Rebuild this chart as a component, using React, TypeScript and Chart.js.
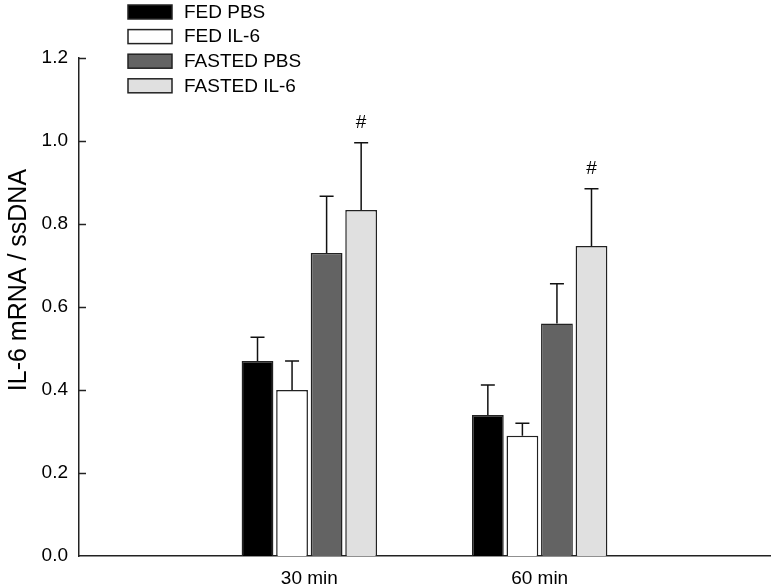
import React, { useEffect, useRef } from 'react';
import { Chart, registerables } from 'chart.js';

Chart.register(...registerables);

const categories = ['30 min', '60 min'];
const seriesLabels = ['FED PBS', 'FED IL-6', 'FASTED PBS', 'FASTED IL-6'];
const fedPbs = [0.47, 0.34];
const fedIl6 = [0.4, 0.29];
const fastedPbs = [0.73, 0.56];
const fastedIl6 = [0.834, 0.747];
const fedPbsErr = [0.057, 0.072];
const fedIl6Err = [0.07, 0.03];
const fastedPbsErr = [0.137, 0.096];
const fastedIl6Err = [0.162, 0.138];
const fastedIl6Marks = ['#', '#'];
const yTitle = 'IL-6 mRNA / ssDNA';
const yMin = 0;
const yMax = 1.2;
const yStep = 0.2;

const FONT = 'Liberation Sans, Arial, Helvetica, sans-serif';
const fills = ['#000000', '#ffffff', '#636363', '#e0e0e0'];

const errorBarPlugin = {
  id: 'errorBars',
  afterDatasetsDraw(chart: any) {
    const ctx = chart.ctx;
    const yScale = chart.scales.y;
    ctx.save();
    ctx.strokeStyle = '#111';
    ctx.lineWidth = 1.5;
    chart.data.datasets.forEach((ds: any, di: number) => {
      const meta = chart.getDatasetMeta(di);
      meta.data.forEach((bar: any, i: number) => {
        const v = ds.data[i].y;
        const e = ds.errors[i];
        const yTop = yScale.getPixelForValue(v + e);
        ctx.beginPath();
        ctx.moveTo(bar.x, bar.y);
        ctx.lineTo(bar.x, yTop);
        ctx.moveTo(bar.x - 7, yTop);
        ctx.lineTo(bar.x + 7, yTop);
        ctx.stroke();
        if (ds.marks && ds.marks[i]) {
          ctx.fillStyle = '#000';
          ctx.font = `19px ${FONT}`;
          ctx.textAlign = 'center';
          ctx.textBaseline = 'middle';
          ctx.fillText(ds.marks[i], bar.x, yTop - 20);
        }
      });
    });
    ctx.restore();
  },
};

const axisExtrasPlugin = {
  id: 'axisExtras',
  afterDraw(chart: any) {
    const ctx = chart.ctx;
    const y = chart.scales.y;
    const left = chart.chartArea.left;
    ctx.save();
    ctx.strokeStyle = '#222';
    ctx.lineWidth = 1.5;
    y.ticks.forEach((t: any) => {
      if (t.value === yMin) return;
      const py = Math.round(y.getPixelForValue(t.value)) + 0.5;
      ctx.beginPath();
      ctx.moveTo(left, py);
      ctx.lineTo(left + 7, py);
      ctx.stroke();
    });
    // rotated y-axis title
    ctx.translate(19, y.getPixelForValue(0.665));
    ctx.rotate(-Math.PI / 2);
    ctx.fillStyle = '#000';
    ctx.font = `25px ${FONT}`;
    ctx.textAlign = 'center';
    ctx.textBaseline = 'middle';
    ctx.fillText(yTitle, 0, 0);
    ctx.restore();
  },
};

const legendPlugin = {
  id: 'boxLegend',
  afterDraw(chart: any) {
    const ctx = chart.ctx;
    ctx.save();
    ctx.font = `19px ${FONT}`;
    ctx.textBaseline = 'middle';
    ctx.textAlign = 'left';
    chart.data.datasets.forEach((ds: any, i: number) => {
      const top = 5 + i * 24.6;
      ctx.fillStyle = ds.backgroundColor;
      ctx.fillRect(128, top, 44, 14);
      ctx.strokeStyle = '#222';
      ctx.lineWidth = 1.5;
      ctx.strokeRect(128, top, 44, 14);
      ctx.fillStyle = '#000';
      ctx.fillText(ds.label, 184, top + 7.5);
    });
    ctx.restore();
  },
};

export default function App() {
  const ref = useRef<HTMLCanvasElement>(null);

  useEffect(() => {
    document.body.style.margin = '0';
    const values = [fedPbs, fedIl6, fastedPbs, fastedIl6];
    const errors = [fedPbsErr, fedIl6Err, fastedPbsErr, fastedIl6Err];
    const datasets = seriesLabels.map((label, si) => ({
      label,
      data: categories.map((_, ci) => ({ x: ci + 1, y: values[si][ci] })),
      errors: errors[si],
      marks: si === 3 ? fastedIl6Marks : null,
      backgroundColor: fills[si],
      borderColor: '#222',
      borderWidth: 1.5,
      borderSkipped: 'bottom',
      categoryPercentage: 0.6,
      barPercentage: 0.92,
    }));
    const chart = new Chart(ref.current as HTMLCanvasElement, {
      type: 'bar',
      data: { datasets } as any,
      options: {
        animation: false,
        responsive: false,
        devicePixelRatio: 1,
        layout: { padding: { top: 58, right: 2, left: 0, bottom: 0 } },
        plugins: { legend: { display: false }, tooltip: { enabled: false } },
        scales: {
          x: {
            type: 'linear',
            offset: false,
            min: 0,
            max: categories.length + 1,
            grid: { display: false },
            border: { display: true, color: '#222', width: 1.5 },
            ticks: {
              stepSize: 1,
              padding: 3,
              color: '#000',
              font: { family: FONT, size: 19 },
              callback: (v: any) => categories[Number(v) - 1] ?? '',
            },
            afterFit: (s: any) => {
              s.height = 32;
            },
          },
          y: {
            min: yMin,
            max: yMax,
            grid: { display: false, drawTicks: false },
            border: { display: true, color: '#222', width: 1.5 },
            ticks: {
              stepSize: yStep,
              padding: 11,
              color: '#000',
              font: { family: FONT, size: 19 },
              callback: (v: any) => Number(v).toFixed(1),
            },
            afterFit: (s: any) => {
              s.width = 79;
            },
          },
        },
      },
      plugins: [errorBarPlugin, axisExtrasPlugin, legendPlugin],
    } as any);
    return () => chart.destroy();
  }, []);

  return (
    <div style={{ width: 773, height: 588, background: '#fff' }}>
      <canvas ref={ref} width={773} height={588} style={{ display: 'block' }} />
    </div>
  );
}
